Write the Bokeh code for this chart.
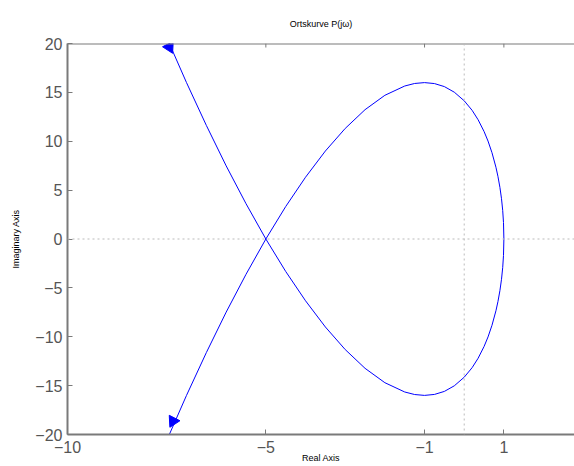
import numpy as np
from bokeh.plotting import figure
from bokeh.models import Range1d, FixedTicker, Span
from bokeh.embed import file_html
from bokeh.resources import INLINE

# Nyquist curve, positive-frequency branch (real part, imaginary part)
re_pos = [1.0, 0.99, 0.97, 0.94, 0.9, 0.85, 0.8, 0.7, 0.6, 0.5, 0.35, 0.2, 0.0,
          -0.25, -0.5, -0.75, -1.0, -1.25, -1.5, -2.0, -2.5, -3.0, -3.5, -4.0,
          -4.5, -5.0, -5.5, -6.0, -6.5, -7.0, -7.5, -8.0]
im_pos = [0.0, 1.69, 2.93, 4.12, 5.28, 6.41, 7.34, 8.83, 10.02, 11.0, 12.2, 13.16, 14.14,
          15.02, 15.59, 15.9, 16.0, 15.91, 15.65, 14.7, 13.23, 11.31, 9.0, 6.32,
          3.32, 0.0, -3.61, -7.48, -11.62, -16.0, -20.62, -25.46]

# direction arrows (position and heading in degrees)
arrow_x = [-7.43, -7.34]
arrow_y = [19.63, -18.63]
arrow_angle_deg = [-153.0, 153.0]

x_ticks = [-10, -5, -1, 1]
y_ticks = [-20, -15, -10, -5, 0, 5, 10, 15, 20]
x_range = (-10, 2.78)
y_range = (-20, 20)

title_text = "Ortskurve P(jω)"
x_label = "Real Axis"
y_label = "Imaginary Axis"

FONT = "Liberation Sans"
AXIS_COLOR = "#7a7a7a"
LABEL_COLOR = "#555555"


def minus(v):
    return str(v).replace("-", "\u2212")


# full curve: negative frequencies (mirror image) followed by positive ones
curve_x = list(reversed(re_pos)) + re_pos[1:]
curve_y = [-v for v in reversed(im_pos)] + im_pos[1:]

p = figure(width=574, height=466, output_backend="svg", toolbar_location=None,
           x_range=Range1d(*x_range), y_range=Range1d(*y_range),
           min_border_left=67, min_border_right=0, min_border_top=43, min_border_bottom=32,
           title=title_text)
p.outline_line_color = None
p.grid.visible = False
p.background_fill_color = "white"
p.border_fill_color = "white"

p.title.text_font = FONT
p.title.text_font_size = "9px"
p.title.text_font_style = "normal"
p.title.text_color = "black"
p.title.align = "center"
p.title.standoff = 30

for ax, ticks in ((p.xaxis[0], x_ticks), (p.yaxis[0], y_ticks)):
    ax.ticker = FixedTicker(ticks=ticks)
    ax.major_label_overrides = {t: minus(t) for t in ticks}
    ax.major_label_text_font = FONT
    ax.major_label_text_font_size = "16px"
    ax.major_label_text_color = LABEL_COLOR
    ax.axis_line_color = AXIS_COLOR
    ax.axis_line_width = 2
    ax.major_tick_line_color = AXIS_COLOR
    ax.major_tick_in = 5
    ax.major_tick_out = 0
    ax.minor_tick_line_color = None
    ax.axis_label_text_font = FONT
    ax.axis_label_text_font_size = "9px"
    ax.axis_label_text_font_style = "normal"
    ax.axis_label_text_color = "black"

p.xaxis[0].axis_label = x_label
p.xaxis[0].major_label_standoff = 6
p.xaxis[0].axis_label_standoff = -3
p.yaxis[0].axis_label = y_label
p.yaxis[0].major_label_standoff = 5
p.yaxis[0].axis_label_standoff = 11

# top border of the box with inward ticks at the x tick positions
p.add_layout(Span(location=y_range[1], dimension="width", line_color=AXIS_COLOR,
                  line_width=2))
tick_len = (y_range[1] - y_range[0]) * 4.0 / 391.0
p.segment(x0=x_ticks, y0=[y_range[1]] * len(x_ticks),
          x1=x_ticks, y1=[y_range[1] - tick_len] * len(x_ticks),
          line_color=AXIS_COLOR, line_width=1)

p.add_layout(Span(location=0, dimension="width", line_color="#bbbbbb",
                  line_width=1, line_dash="2 3"))
p.add_layout(Span(location=0, dimension="height", line_color="#bbbbbb",
                  line_width=1, line_dash="2 3"))

p.line(curve_x, curve_y, line_color="#0000ff", line_width=1)
p.scatter(arrow_x, arrow_y, marker="triangle", size=12,
          angle=np.radians(arrow_angle_deg), fill_color="#0000ff",
          line_color="#0000ff", line_width=1)

open("out.html", "w").write(file_html(p, INLINE))
